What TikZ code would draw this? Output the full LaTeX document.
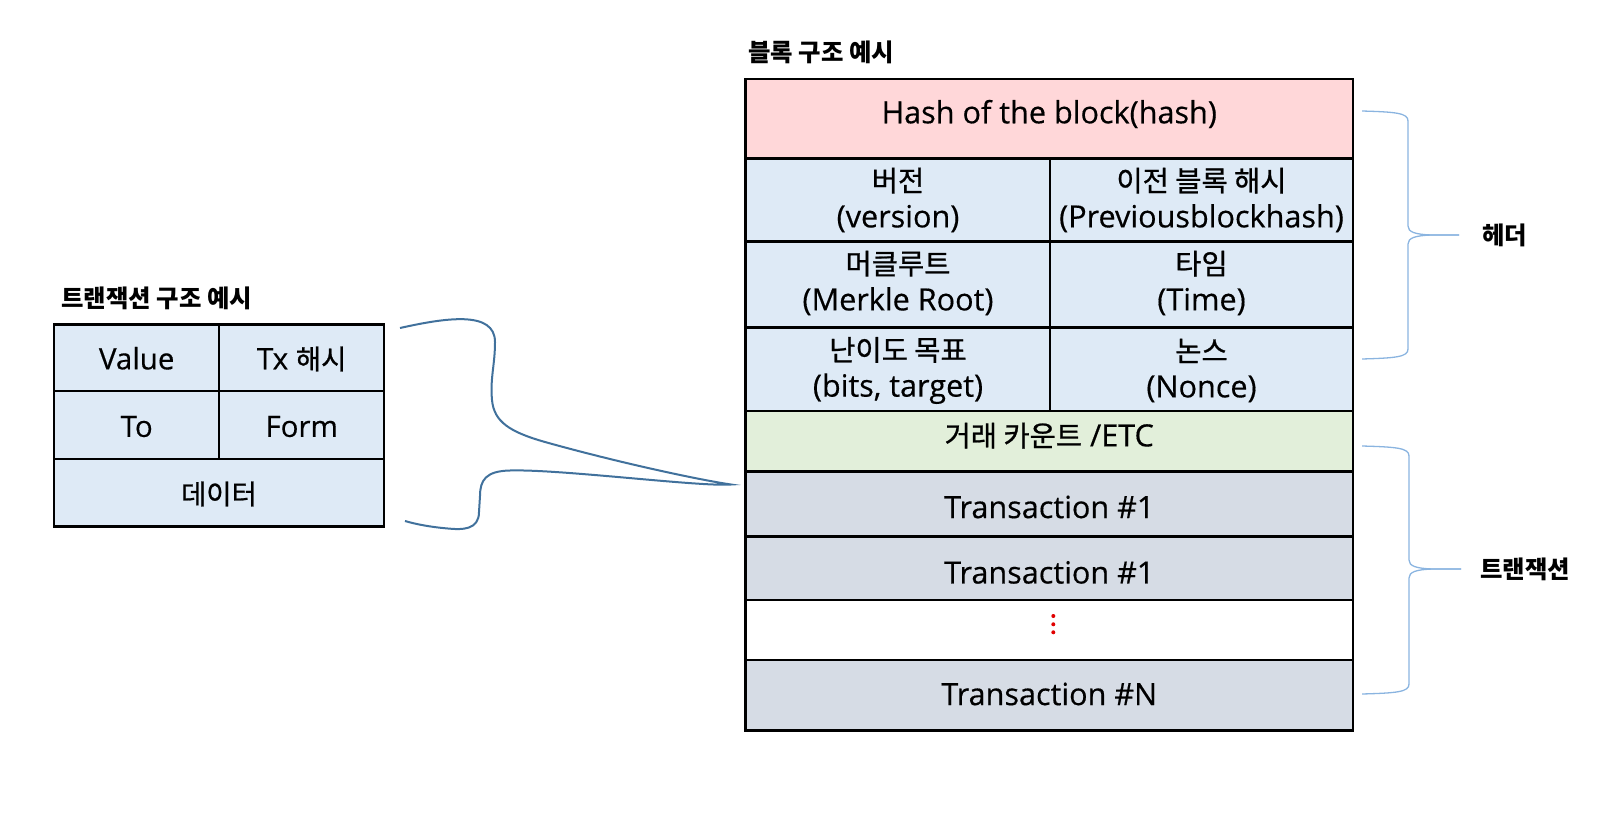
\documentclass[tikz,border=0pt]{standalone}
\usepackage{fontspec}
\setmainfont{Open Sans}[FakeBold=0.4]
\newfontfamily\krf{Noto Sans CJK KR}[FakeBold=0.8]
\newfontfamily\krbf{Noto Sans CJK KR}
\newcommand{\kr}[1]{{\krf\fontsize{28.5}{36}\selectfont #1}}
\newcommand{\krs}[1]{{\krf\fontsize{27.5}{34}\selectfont #1}}
\newcommand{\krt}[1]{{\krbf\bfseries\fontsize{24.4}{28}\selectfont #1}}
\definecolor{pinkc}{HTML}{FFD7D9}
\definecolor{bluec}{HTML}{DEEAF6}
\definecolor{greenc}{HTML}{E2EFDA}
\definecolor{grayc}{HTML}{D6DCE5}
\definecolor{linkblue}{HTML}{41719C}
\definecolor{braceblue}{HTML}{8AB4E0}
\definecolor{dotred}{HTML}{E00000}
\begin{document}
\begin{tikzpicture}[x=1pt,y=-1pt,
  cellbox/.style={draw=black, line width=2.5pt, inner sep=0pt, outer sep=0pt, anchor=north west},
  txt/.style={font=\fontsize{30.6}{36}\selectfont, align=center, inner sep=0pt},
  txts/.style={font=\fontsize{29.5}{34}\selectfont, align=center, inner sep=0pt},
  ttl/.style={anchor=west, inner sep=0pt},
  link/.style={draw=linkblue, line width=2pt},
  brc/.style={draw=braceblue, line width=1.3pt}]
\useasboundingbox (0,0) rectangle (1600,821);

% titles
\node[ttl] (tBlock) at (748,52) {\krt{블록 구조 예시}};
\node[ttl] (tTx) at (61,298) {\krt{트랜잭션 구조 예시}};

% block structure cells
\node[cellbox, fill=pinkc, minimum width=607.5pt, minimum height=79.5pt] (hash) at (745.5,79) {};
\node[cellbox, fill=bluec, minimum width=304.5pt, minimum height=83pt] (ver) at (745.5,158.5) {};
\node[cellbox, fill=bluec, minimum width=303pt, minimum height=83pt] (prev) at (1050,158.5) {};
\node[cellbox, fill=bluec, minimum width=304.5pt, minimum height=86pt] (merk) at (745.5,241.5) {};
\node[cellbox, fill=bluec, minimum width=303pt, minimum height=86pt] (time) at (1050,241.5) {};
\node[cellbox, fill=bluec, minimum width=304.5pt, minimum height=83.5pt] (bits) at (745.5,327.5) {};
\node[cellbox, fill=bluec, minimum width=303pt, minimum height=83.5pt] (nonce) at (1050,327.5) {};
\node[cellbox, fill=greenc, minimum width=607.5pt, minimum height=60.5pt] (etc) at (745.5,411) {};
\node[cellbox, fill=grayc, minimum width=607.5pt, minimum height=65pt] (txa) at (745.5,471.5) {};
\node[cellbox, fill=grayc, minimum width=607.5pt, minimum height=63.5pt] (txb) at (745.5,536.5) {};
\node[cellbox, fill=white, minimum width=607.5pt, minimum height=60pt] (gap) at (745.5,600) {};
\node[cellbox, fill=grayc, minimum width=607.5pt, minimum height=70.5pt] (txn) at (745.5,660) {};

% block texts
\node[txt] (hashT) at (1049.25,114) {Hash of the block(hash)};
\node[txt] (verT) at (898,200) {\kr{버전}\\(version)};
\node[txt] (prevT) at (1201.5,200) {\kr{이전 블록 해시}\\(Previousblockhash)};
\node[txt] (merkT) at (898,283) {\kr{머클루트}\\(Merkle Root)};
\node[txt] (timeT) at (1201.5,283) {\kr{타임}\\(Time)};
\node[txt] (bitsT) at (898,370.5) {\kr{난이도 목표}\\(bits, target)};
\node[txt] (nonceT) at (1201.5,370.5) {\kr{논스}\\(Nonce)};
\node[txt] (etcT) at (1049.25,435.7) {\kr{거래 카운트} /ETC};
\node[txt] (txaT) at (1049.25,507) {Transaction \#1};
\node[txt] (txbT) at (1049.25,572.4) {Transaction \#1};
\node[txt] (txnT) at (1049.25,694) {Transaction \#N};
\foreach \yy in {616,624.3,632.3} \fill[dotred] (1053.3,\yy) circle (2pt);

% transaction structure cells
\node[cellbox, fill=bluec, minimum width=165pt, minimum height=66.5pt] (val) at (54,324.5) {};
\node[cellbox, fill=bluec, minimum width=165pt, minimum height=66.5pt] (txh) at (219,324.5) {};
\node[cellbox, fill=bluec, minimum width=165pt, minimum height=68pt] (to) at (54,391) {};
\node[cellbox, fill=bluec, minimum width=165pt, minimum height=68pt] (form) at (219,391) {};
\node[cellbox, fill=bluec, minimum width=330pt, minimum height=67.5pt] (data) at (54,459) {};
\node[txts] (valT) at (136.7,358.3) {Value};
\node[txts] (txhT) at (301.7,359) {Tx \krs{해시}};
\node[txts] (toT) at (136.7,426.5) {To};
\node[txts] (formT) at (301.7,426.5) {Form};
\node[txts] (dataT) at (219,494) {\krs{데이터}};

% connector (curly bracket from transaction to block)
\coordinate (ca) at (400,328);
\coordinate (cb) at (731,484.5);
\coordinate (cc) at (405,521);
\path[link] (ca) .. controls (445,318) and (495,310) .. (495,342)
  .. controls (495,365) and (490,378) .. (492,400)
  .. controls (494,422) and (510,432) .. (545,442)
  .. controls (620,463) and (700,480) .. (cb)
  .. controls (700,487) and (560,469) .. (510,470.5)
  .. controls (486,471) and (480,480) .. (480,496)
  -- (479,512)
  .. controls (479,530) and (462,530) .. (448,528.5)
  .. controls (430,527) and (415,524) .. (cc);

% braces
\coordinate (hTop) at (1362,111);
\coordinate (hMid) at (1459,235);
\coordinate (hBot) at (1362,359);
\path[brc] (hTop) .. controls (1396,112) and (1408,113) .. (1408,121)
  -- (1408,226) .. controls (1408,232) and (1415,234.5) .. (1432,235) -- (hMid);
\path[brc] (hMid) -- (1432,235) .. controls (1415,235.5) and (1408,238) .. (1408,244)
  -- (1408,349) .. controls (1408,357) and (1396,358) .. (hBot);
\coordinate (sTop) at (1362,446);
\coordinate (sMid) at (1461,569);
\coordinate (sBot) at (1362,694);
\path[brc] (sTop) .. controls (1397,447) and (1409,448) .. (1409,456)
  -- (1409,560) .. controls (1409,566) and (1416,568.5) .. (1433,569) -- (sMid);
\path[brc] (sMid) -- (1433,569) .. controls (1416,569.5) and (1409,572) .. (1409,578)
  -- (1409,684) .. controls (1409,692) and (1397,693) .. (sBot);

\node[ttl] (hdrL) at (1482,235) {\krt{헤더}};
\node[ttl] (txL) at (1480,569) {\krt{트랜잭션}};
\end{tikzpicture}
\end{document}
